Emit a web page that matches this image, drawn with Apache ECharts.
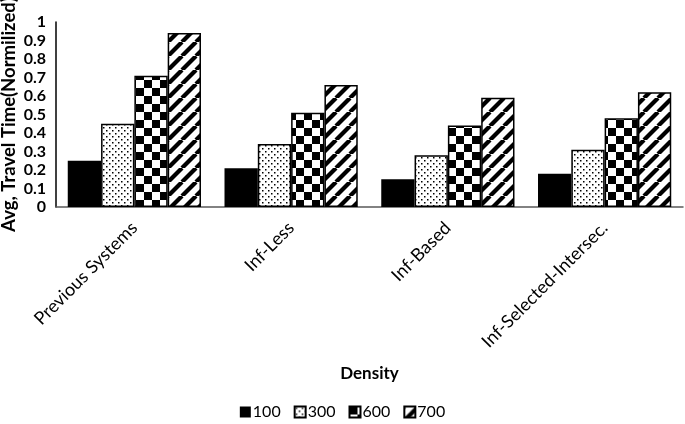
<!DOCTYPE html>
<html><head><meta charset="utf-8">
<script src="https://cdn.jsdelivr.net/npm/echarts@6/dist/echarts.min.js"></script>
<style>html,body{margin:0;padding:0;background:#fff}#c{width:685px;height:424px}</style>
</head><body><div id="c"></div>
<script>
const categories = ['Previous Systems', 'Inf-Less', 'Inf-Based', 'Inf-Selected-Intersec.'];
const seriesNames = ['100', '300', '600', '700'];
const d100 = [0.25, 0.21, 0.15, 0.18];
const d300 = [0.45, 0.34, 0.28, 0.31];
const d600 = [0.71, 0.51, 0.44, 0.48];
const d700 = [0.94, 0.66, 0.59, 0.62];
const yTicks = ['0','0.1','0.2','0.3','0.4','0.5','0.6','0.7','0.8','0.9','1'];

function mk(w, h, draw) {
  const c = document.createElement('canvas');
  c.width = w; c.height = h;
  const g = c.getContext('2d');
  g.fillStyle = '#fff'; g.fillRect(0, 0, w, h);
  g.fillStyle = '#000'; g.strokeStyle = '#000';
  draw(g);
  return c;
}
const dots = mk(6, 6, g => { g.fillRect(1, 1, 1.5, 1.5); g.fillRect(4, 4, 1.5, 1.5); });
const checker = mk(16, 16, g => { g.fillRect(0, 0, 8, 8); g.fillRect(8, 8, 8, 8); });
const stripes = mk(14, 14, g => {
  g.lineWidth = 4.2;
  for (let k = -14; k <= 28; k += 14) {
    g.beginPath(); g.moveTo(k, 14); g.lineTo(k + 14, 0); g.stroke();
  }
});
const fills = [
  '#000',
  { image: dots, repeat: 'repeat' },
  { image: checker, repeat: 'repeat' },
  { image: stripes, repeat: 'repeat' }
];
const values = [d100, d300, d600, d700];

const chart = echarts.init(document.getElementById('c'), null, { renderer: 'canvas' });
const font = 'Lato, "Open Sans", sans-serif';
chart.setOption({
  animation: false,
  backgroundColor: '#fff',
  grid: { left: 56, right: 2, top: 22, bottom: 217, containLabel: false, outerBoundsMode: 'none' },
  legend: {
    bottom: 4, left: 'center', itemWidth: 11, itemHeight: 11, itemGap: 13, padding: 0,
    icon: 'rect',
    textStyle: { fontFamily: font, fontSize: 16, color: '#000', padding: [0, 0, 0, -3] },
    data: seriesNames
  },
  xAxis: {
    type: 'category', data: categories,
    name: 'Density', nameLocation: 'middle', nameGap: 158, nameMoveOverlap: false,
    nameTextStyle: { fontFamily: font, fontSize: 17, fontWeight: 'bold', color: '#000' },
    axisLine: { lineStyle: { color: '#595959', width: 1.5 } },
    axisTick: { show: false },
    axisLabel: { rotate: 45, fontFamily: font, fontSize: 18, color: '#000', margin: 18, interval: 0 }
  },
  yAxis: {
    type: 'value', min: 0, max: 1, interval: 0.1,
    name: 'Avg, Travel Time(Normilized)', nameLocation: 'middle', nameGap: 37, nameMoveOverlap: false,
    nameTextStyle: { fontFamily: font, fontSize: 18.5, fontWeight: 'bold', color: '#000' },
    axisLine: { show: true, lineStyle: { color: '#000', width: 1.5 } },
    axisTick: { show: false },
    splitLine: { show: false },
    axisLabel: {
      fontFamily: font, fontSize: 16, fontWeight: 'bold', color: '#000', margin: 10,
      formatter: v => yTicks[Math.round(v * 10)]
    }
  },
  series: seriesNames.map((n, i) => ({
    name: n, type: 'bar', data: values[i],
    barGap: '0%', barCategoryGap: '15%',
    itemStyle: { color: fills[i], borderColor: '#000', borderWidth: i === 0 ? 0 : 1.5 }
  }))
});
</script></body></html>
